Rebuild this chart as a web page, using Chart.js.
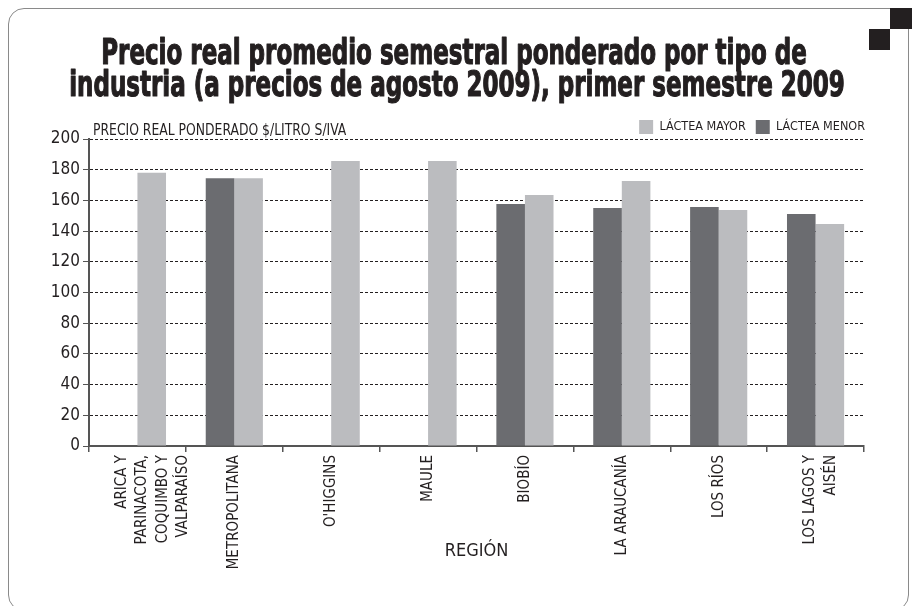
<!DOCTYPE html>
<html>
<head>
<meta charset="utf-8">
<script src="https://cdn.jsdelivr.net/npm/chart.js@4"></script>
<style>
  html, body { margin: 0; padding: 0; background: #fff; }
  #wrap { position: relative; width: 914px; height: 606px; overflow: hidden; }
  #frame { position: absolute; left: 8px; top: 8px; width: 901px; height: 603px;
           border: 1.5px solid #8a8a8a; border-radius: 16px; box-sizing: border-box; }
  .sq { position: absolute; width: 21px; height: 21px; background: #231f20; }
  #myChart { position: absolute; left: 0; top: 0; }
</style>
</head>
<body>
<div id="wrap">
  <div id="frame"></div>
  <div class="sq" style="left:890px; top:8px; width:22px;"></div>
  <div class="sq" style="left:869px; top:29px;"></div>
  <canvas id="myChart" width="914" height="606"></canvas>
</div>
<script>
var regiones = [
    ['ARICA Y', 'PARINACOTA,', 'COQUIMBO Y', 'VALPARAÍSO'],
    'METROPOLITANA',
    "O'HIGGINS",
    'MAULE',
    'BIOBÍO',
    'LA ARAUCANÍA',
    'LOS RÍOS',
    ['LOS LAGOS Y', 'AISÉN']
];
var lacteaMenor = [null, 174.5, null, null, 157.7, 155, 155.7, 151.1];
var lacteaMayor = [178, 174.5, 185.7, 185.7, 163.5, 172.6, 153.7, 144.6];
var yTicks = [0, 20, 40, 60, 80, 100, 120, 140, 160, 180, 200];

var titulo = ['Precio real promedio semestral ponderado por tipo de',
              'industria (a precios de agosto 2009), primer semestre 2009'];
var ejeY = 'PRECIO REAL PONDERADO $/LITRO S/IVA';

var fontFam = '"Liberation Sans Narrow", "DejaVu Sans Condensed", sans-serif';
Chart.defaults.font.family = fontFam;
Chart.defaults.color = '#231f20';

// condensed text helper (no narrow font installed)
function narrowText(c, txt, x, y, font, sx, align, heavy) {
    c.save();
    c.font = font;
    c.fillStyle = '#231f20';
    c.strokeStyle = '#231f20';
    c.textAlign = align;
    c.textBaseline = 'alphabetic';
    c.translate(x, y);
    c.scale(sx, 1);
    c.fillText(txt, 0, 0);
    if (heavy) {
        c.lineWidth = heavy;
        c.lineJoin = 'round';
        c.strokeText(txt, 0, 0);
    }
    c.restore();
}

var textos = {
    id: 'textos',
    afterLayout: function(chart) {
        // legend flush with the plot's right end, a bit lower
        var lg = chart.legend;
        lg.left += 11; lg.right += 11;
        lg.top += 5; lg.bottom += 5;
    },
    beforeDraw: function(chart) {
        // pull multi-line rotated labels back toward their category
        var xs = chart.scales.x;
        var lh = 15 * 1.35;
        xs.getLabelItems(chart.chartArea).forEach(function(it) {
            if (Array.isArray(it.label) && !it._moved) {
                it.options.translation[0] -= (it.label.length - 1) * lh / 4;
                it._moved = true;
            }
        });
    },
    afterDraw: function(chart) {
        var c = chart.ctx, a = chart.chartArea;
        narrowText(c, titulo[0], 454, 64, 'bold 36px ' + fontFam, 0.71, 'center', 1.2);
        narrowText(c, titulo[1], 457, 96, 'bold 36px ' + fontFam, 0.71, 'center', 1.2);
        narrowText(c, ejeY, a.left + 4, a.top - 4, '16px ' + fontFam, 0.86, 'left', 0);
    }
};

var ctx = document.getElementById('myChart').getContext('2d');
var myChart = new Chart(ctx, {
    type: 'bar',
    data: {
        labels: regiones,
        datasets: [{
            label: 'LÁCTEA MENOR',
            data: lacteaMenor,
            backgroundColor: '#6b6c70'
        }, {
            label: 'LÁCTEA MAYOR',
            data: lacteaMayor,
            backgroundColor: '#bbbcbf'
        }]
    },
    options: {
        responsive: false,
        animation: false,
        layout: { padding: { left: 20, right: 50, top: 105, bottom: 25 } },
        datasets: { bar: { categoryPercentage: 0.59, barPercentage: 1.0 } },
        plugins: {
            title: { display: false },
            legend: {
                position: 'top',
                align: 'end',
                reverse: true,
                labels: { boxWidth: 14, boxHeight: 14, font: { size: 12.5 }, padding: 10 }
            },
            tooltip: { enabled: false }
        },
        scales: {
            x: {
                grid: { display: true, offset: true, drawOnChartArea: false, tickLength: 6, color: '#555', lineWidth: 1.5 },
                border: { color: '#555', width: 2 },
                ticks: { minRotation: 90, maxRotation: 90, autoSkip: false, font: { size: 15, lineHeight: 1.35 }, padding: 3 },
                title: { display: true, text: 'REGIÓN', font: { size: 18 }, padding: { top: 0, bottom: 19 } },
                afterFit: function(s) { s.height = 135; }
            },
            y: {
                min: 0,
                max: 200,
                afterBuildTicks: function(s) { s.ticks = yTicks.map(function(v) { return { value: v }; }); },
                grid: { color: '#231f20', lineWidth: 1, tickLength: 6, tickColor: '#555', tickBorderDash: [] },
                border: { color: '#555', width: 2, dash: [3, 2] },
                ticks: { font: { size: 17, lineHeight: 0.6 }, padding: 3 },
                afterFit: function(s) { s.width = 69; }
            }
        }
    },
    plugins: [textos]
});
</script>
</body>
</html>
